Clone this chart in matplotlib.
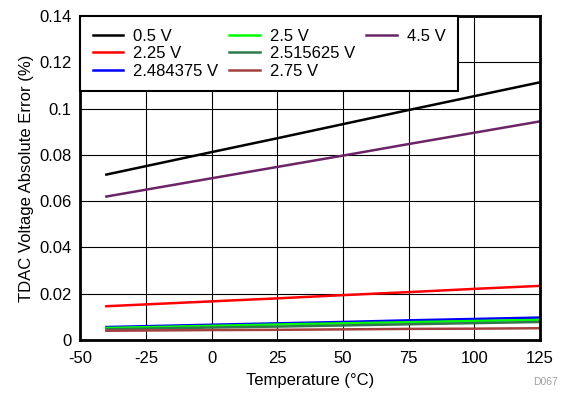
import matplotlib
matplotlib.use("Agg")
import matplotlib.pyplot as plt
from matplotlib.lines import Line2D

plt.rcParams['font.family'] = ['Liberation Sans', 'DejaVu Sans']
plt.rcParams['axes.unicode_minus'] = False

temps = [-40, 0, 25, 50, 75, 100, 125]
labels = ["0.5 V", "2.25 V", "2.484375 V", "2.5 V", "2.515625 V", "2.75 V", "4.5 V"]
colors = ["#000000", "#ff0000", "#0000ff", "#00ff00", "#2e7a4e", "#a54040", "#6b2466"]
err_05 = [0.0715, 0.0812, 0.0872, 0.0933, 0.0994, 0.1054, 0.1114]
err_225 = [0.0146, 0.0167, 0.0180, 0.0194, 0.0207, 0.0221, 0.0234]
err_2484 = [0.0056, 0.0066, 0.0072, 0.0078, 0.0085, 0.0091, 0.0097]
err_25 = [0.0052, 0.0061, 0.0067, 0.0072, 0.0077, 0.0082, 0.0087]
err_2516 = [0.0046, 0.0054, 0.0058, 0.0063, 0.0068, 0.0073, 0.0078]
err_275 = [0.0040, 0.0043, 0.0044, 0.0046, 0.0048, 0.0049, 0.0051]
err_45 = [0.0620, 0.0699, 0.0748, 0.0797, 0.0847, 0.0896, 0.0945]
series = [err_05, err_225, err_2484, err_25, err_2516, err_275, err_45]

fs = 12
fig = plt.figure(figsize=(5.68, 3.96), dpi=100)
ax = fig.add_axes([0.141, 0.1414, 0.810, 0.818])

for vals, lab, c in zip(series, labels, colors):
    ax.plot(temps, vals, color=c, lw=1.8, label=lab)

ax.set_xlim(-50, 125)
ax.set_ylim(0, 0.14)
ax.set_xticks([-50, -25, 0, 25, 50, 75, 100, 125])
ax.set_yticks([0, 0.02, 0.04, 0.06, 0.08, 0.1, 0.12, 0.14])
ax.set_yticklabels(["0", "0.02", "0.04", "0.06", "0.08", "0.1", "0.12", "0.14"])
ax.tick_params(length=0, labelsize=fs)
ax.tick_params(axis="x", pad=8)
ax.tick_params(axis="y", pad=6)
ax.grid(True, color="#000000", lw=0.8)
ax.set_axisbelow(True)
for s in ax.spines.values():
    s.set_linewidth(2)
ax.set_xlabel("Temperature (°C)", fontsize=fs, labelpad=5)
ax.set_ylabel("TDAC Voltage Absolute Error (%)", fontsize=fs, labelpad=4)

# pad so the legend fills as 3,3,1
handles, labs = ax.get_legend_handles_labels()
blank = Line2D([], [], alpha=0)
handles += [blank, blank]
labs += ["", ""]
leg = ax.legend(handles, labs, ncol=3, loc="upper left", bbox_to_anchor=(0, 1),
                borderaxespad=0, fancybox=False, framealpha=1, fontsize=fs,
                handlelength=1.85, columnspacing=0.65, labelspacing=0.15,
                borderpad=0.75, handletextpad=0.6)
leg.get_frame().set_edgecolor("#000000")
leg.get_frame().set_linewidth(1.5)

fig.text(0.983, 0.023, "D067", color="#a0a0a0", fontsize=7.5, ha="right", va="bottom")

fig.savefig("out.png", dpi=100)
